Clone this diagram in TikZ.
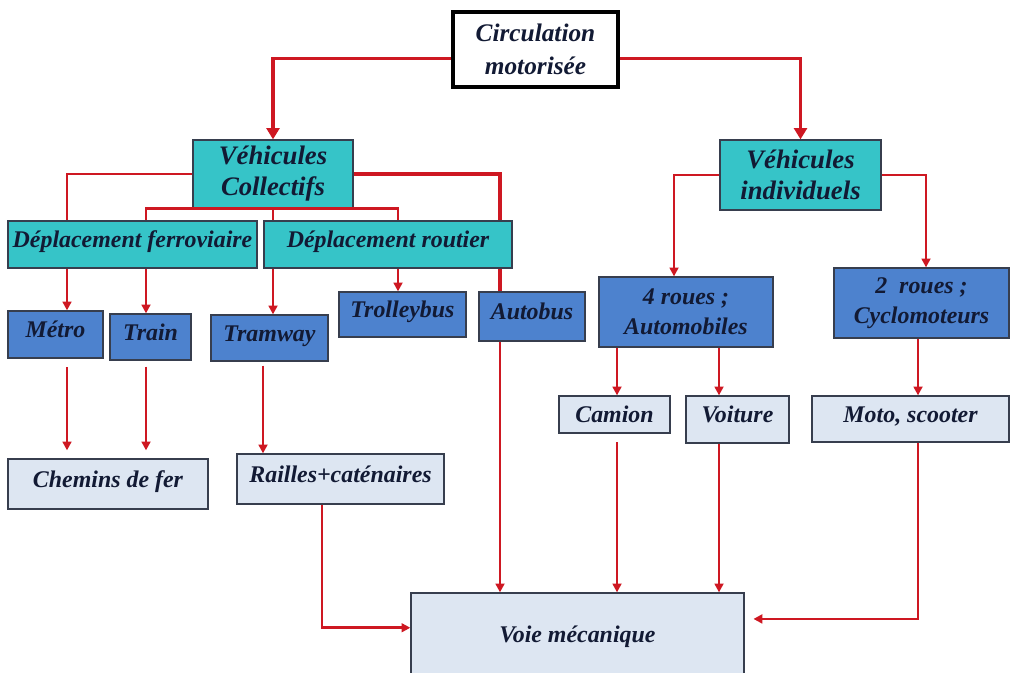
\documentclass[tikz,border=0pt]{standalone}
\usepackage{fontspec}
\setmainfont{Liberation Serif}
\usepackage{xcolor}
\usepackage{tikz}
\usetikzlibrary{arrows.meta}

\definecolor{boxteal}{RGB}{54,196,200}
\definecolor{boxblue}{RGB}{77,130,206}
\definecolor{boxlight}{RGB}{221,230,242}
\definecolor{edgegray}{RGB}{55,62,78}
\definecolor{linkred}{RGB}{206,24,34}
\definecolor{inkblue}{RGB}{18,26,52}

\begin{document}
\begin{tikzpicture}[
    x=0.025cm, y=-0.025cm,
    box/.style={draw=edgegray, line width=0.9pt, inner sep=2pt, align=center,
                text=inkblue, font=\fontsize{17}{21}\selectfont\bfseries\itshape},
    topbox/.style={box, draw=black, line width=2.5pt, fill=white,
                   font=\fontsize{18}{23}\selectfont\bfseries\itshape},
    group/.style={box, fill=boxteal, font=\fontsize{19}{22}\selectfont\bfseries\itshape},
    mode/.style={box, fill=boxblue},
    infra/.style={box, fill=boxlight},
    oneline/.style={text height=12pt, text depth=7.5pt},
    link/.style={draw=linkred, line width=2pt},
    arrow/.style={link, -{Triangle[length=2.2mm, width=2.2mm]}},
    bigarrow/.style={link, line width=2.6pt, -{Triangle[length=2.8mm, width=3.2mm]}}
]
\fill[white] (0,0) rectangle (1011,672);
\useasboundingbox (0,0) rectangle (1011,672);
\clip (0,0) rectangle (1011,672);

\node[topbox, minimum width=4.125cm, minimum height=1.875cm] (circ) at (535.5,49.5) {Circulation\\motorisée};

\node[group, minimum width=4cm, minimum height=1.7cm] (vc) at (273,174) {Véhicules\\Collectifs\rule[-3pt]{0pt}{3pt}};
\node[group, minimum width=4.025cm, minimum height=1.75cm] (vi) at (800.5,175) {Véhicules\\individuels};

\node[box, oneline, fill=boxteal, minimum width=6.225cm, minimum height=1.175cm] (ferro) at (132.5,244.5) {Déplacement ferroviaire};
\node[box, oneline, fill=boxteal, minimum width=6.2cm, minimum height=1.175cm] (rout) at (388,244.5) {Déplacement routier};

\node[mode, oneline, minimum width=2.375cm, minimum height=1.175cm] (metro) at (55.5,334.5) {Métro};
\node[mode, oneline, minimum width=2.025cm, minimum height=1.15cm] (train) at (150.5,337) {Train};
\node[mode, oneline, minimum width=2.925cm, minimum height=1.15cm] (tram) at (269.5,338) {Tramway};
\node[mode, oneline, minimum width=3.175cm, minimum height=1.125cm] (troll) at (402.5,314.5) {Trolleybus};
\node[mode, oneline, minimum width=2.65cm, minimum height=1.225cm] (autob) at (532,316.5) {Autobus};
\node[mode, minimum width=4.35cm, minimum height=1.75cm] (quatre) at (686,312) {4 roues ;\\Automobiles};
\node[mode, minimum width=4.375cm, minimum height=1.75cm] (deux) at (921.5,303) {2~ roues ;\\Cyclomoteurs};

\node[infra, minimum width=2.775cm, minimum height=0.925cm] (camion) at (614.5,414.5) {Camion};
\node[infra, oneline, minimum width=2.575cm, minimum height=1.175cm] (voiture) at (737.5,419.5) {Voiture};
\node[infra, oneline, minimum width=4.925cm, minimum height=1.15cm] (moto) at (910.5,419) {Moto, scooter};
\node[infra, oneline, minimum width=5cm, minimum height=1.25cm] (chemins) at (108,484) {Chemins de fer};
\node[infra, oneline, minimum width=5.175cm, minimum height=1.25cm] (railles) at (340.5,479) {Railles+caténaires};
\node[infra, minimum width=8.325cm, minimum height=2.175cm] (voie) at (577.5,636.5) {Voie mécanique};

\coordinate (colMetro) at (67,0);
\coordinate (colTrain) at (146,0);
\coordinate (colTram) at (273,0);
\coordinate (colTroll) at (398,0);
\coordinate (colAuto) at (500,0);
\coordinate (colRailA) at (263,0);
\coordinate (colRail) at (322,0);
\coordinate (colQuatre) at (674,0);
\coordinate (colDeux) at (926,0);
\coordinate (colCamion) at (617,0);
\coordinate (colVoiture) at (719,0);
\coordinate (colMoto) at (918,0);

\draw[bigarrow] (circ.186) -| (vc.north);
\draw[bigarrow] (circ.354) -| (vi.north);

\draw[link] (vc.west) -| (ferro.north -| colMetro);
\draw[link] (ferro.north -| colTrain) |- (vc.south) -| (rout.north -| colTroll);
\draw[link] (vc.south) -- (vc.south |- rout.north);
\draw[link, line width=2.6pt] (vc.east) -| (rout.north -| colAuto);

\draw[arrow] (ferro.south -| colMetro) -- (metro.north -| colMetro);
\draw[arrow] (ferro.south -| colTrain) -- (train.north -| colTrain);
\draw[arrow] (rout.south -| colTram) -- (tram.north -| colTram);
\draw[arrow] (rout.south -| colTroll) -- (troll.north -| colTroll);
\draw[link, line width=2.6pt] (rout.south -| colAuto) -- (autob.north -| colAuto);

\draw[arrow] (vi.west) -| (quatre.north -| colQuatre);
\draw[arrow] (vi.east) -| (deux.north -| colDeux);
\draw[arrow] (quatre.south -| colCamion) -- (camion.north -| colCamion);
\draw[arrow] (quatre.south -| colVoiture) -- (voiture.north -| colVoiture);
\draw[arrow] (deux.south -| colMoto) -- (moto.north -| colMoto);

\draw[arrow, shorten <=0.22cm, shorten >=0.2cm] (metro.south -| colMetro) -- (chemins.north -| colMetro);
\draw[arrow, shorten <=0.15cm, shorten >=0.2cm] (train.south -| colTrain) -- (chemins.north -| colTrain);
\draw[arrow, shorten <=0.1cm] (tram.south -| colRailA) -- (railles.north -| colRailA);

\draw[arrow] (railles.south -| colRail) |- (voie.177);
\draw[arrow] (autob.south -| colAuto) -- (voie.north -| colAuto);
\draw[arrow, shorten <=0.22cm] (camion.south -| colCamion) -- (voie.north -| colCamion);
\draw[arrow] (voiture.south -| colVoiture) -- (voie.north -| colVoiture);
\draw[arrow, shorten >=0.22cm] (moto.south -| colMoto) |- (voie.6);
\end{tikzpicture}
\end{document}
